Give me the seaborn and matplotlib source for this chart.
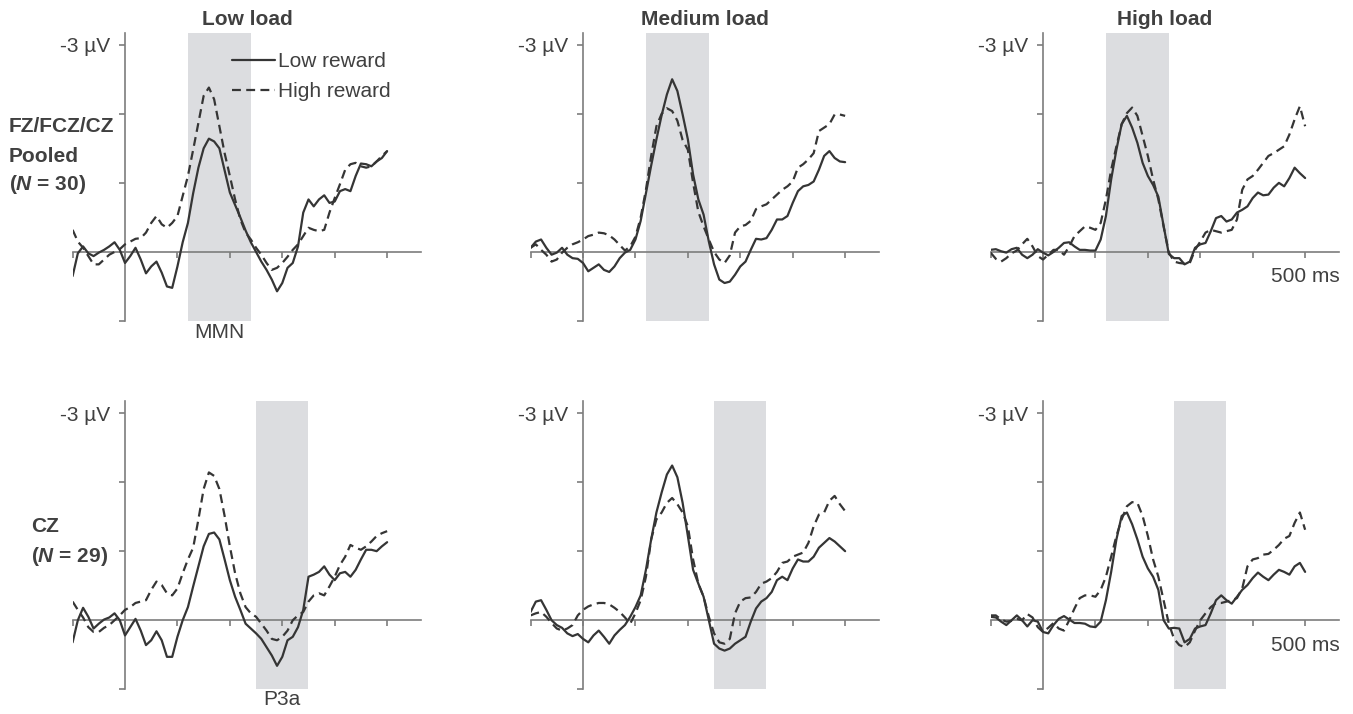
import numpy as np
import pandas as pd
import matplotlib
matplotlib.use("Agg")
import matplotlib.pyplot as plt
import seaborn as sns
from matplotlib.lines import Line2D

# time axis of the waveforms (ms), values in µV (negative plotted up)
time_ms = np.arange(-100, 501, 10)
loads = ["Low load", "Medium load", "High load"]
rewards = ["Low reward", "High reward"]
sites = ["pooled", "cz"]

# FZ/FCZ/CZ pooled
pooled_low_load_low = [0.35, 0.02, -0.08, 0.02, 0.06, 0.01, -0.03, -0.08, -0.14, -0.03,
                       0.16, 0.06, -0.06, 0.11, 0.31, 0.21, 0.14, 0.30, 0.50, 0.52,
                       0.21, -0.14, -0.42, -0.85, -1.22, -1.50, -1.64, -1.60, -1.50, -1.18,
                       -0.86, -0.68, -0.50, -0.31, -0.14, 0.00, 0.14, 0.26, 0.40, 0.57,
                       0.45, 0.23, 0.16, -0.08, -0.57, -0.76, -0.66, -0.76, -0.82, -0.71,
                       -0.73, -0.88, -0.91, -0.88, -1.10, -1.28, -1.27, -1.24, -1.31, -1.36,
                       -1.46]
pooled_low_load_high = [-0.32, -0.15, -0.06, 0.06, 0.18, 0.18, 0.11, 0.04, 0.00, -0.04,
                        -0.11, -0.15, -0.19, -0.20, -0.28, -0.42, -0.52, -0.40, -0.35, -0.42,
                        -0.52, -0.81, -1.10, -1.48, -1.87, -2.26, -2.38, -2.21, -1.82, -1.43,
                        -1.10, -0.76, -0.47, -0.28, -0.18, -0.06, 0.04, 0.16, 0.26, 0.23,
                        0.16, 0.07, -0.03, -0.11, -0.23, -0.35, -0.32, -0.30, -0.32, -0.57,
                        -0.78, -0.98, -1.19, -1.27, -1.29, -1.24, -1.22, -1.24, -1.31, -1.39,
                        -1.46]
pooled_med_load_low = [-0.06, -0.15, -0.18, -0.06, 0.04, 0.01, -0.06, 0.04, 0.09, 0.10,
                       0.16, 0.28, 0.23, 0.18, 0.26, 0.29, 0.21, 0.09, 0.01, -0.03,
                       -0.18, -0.45, -0.85, -1.25, -1.63, -1.98, -2.28, -2.50, -2.33, -1.99,
                       -1.63, -1.12, -0.76, -0.54, -0.15, 0.18, 0.40, 0.45, 0.43, 0.33,
                       0.21, 0.14, -0.03, -0.19, -0.18, -0.20, -0.32, -0.47, -0.47, -0.52,
                       -0.71, -0.88, -0.95, -0.97, -1.02, -1.19, -1.39, -1.46, -1.36, -1.31,
                       -1.30]
pooled_med_load_high = [-0.06, -0.11, -0.03, 0.04, 0.14, 0.11, 0.01, -0.06, -0.11, -0.14,
                        -0.18, -0.23, -0.25, -0.28, -0.27, -0.24, -0.18, -0.10, -0.02, -0.08,
                        -0.22, -0.50, -0.90, -1.39, -1.82, -2.00, -2.08, -2.04, -1.90, -1.62,
                        -1.48, -1.00, -0.58, -0.37, -0.18, 0.00, 0.11, 0.16, 0.05, -0.28,
                        -0.37, -0.39, -0.45, -0.62, -0.66, -0.69, -0.76, -0.83, -0.90, -0.95,
                        -1.02, -1.22, -1.27, -1.34, -1.43, -1.75, -1.80, -1.85, -1.99, -1.99,
                        -1.97]
pooled_high_load_low = [-0.03, -0.04, -0.01, 0.01, -0.04, -0.06, 0.04, 0.09, 0.04, -0.04,
                        0.01, 0.05, 0.00, -0.06, -0.13, -0.14, -0.08, -0.03, -0.03, -0.02,
                        -0.02, -0.18, -0.52, -1.05, -1.48, -1.85, -1.97, -1.80, -1.58, -1.29,
                        -1.10, -0.97, -0.80, -0.38, 0.03, 0.09, 0.09, 0.18, 0.14, -0.06,
                        -0.11, -0.13, -0.30, -0.49, -0.52, -0.44, -0.47, -0.57, -0.61, -0.66,
                        -0.78, -0.86, -0.82, -0.83, -0.93, -1.00, -0.95, -1.07, -1.22, -1.14,
                        -1.07]
pooled_high_load_high = [0.01, 0.10, 0.14, 0.09, 0.02, -0.02, -0.11, -0.19, -0.08, 0.06,
                         0.11, 0.04, -0.03, -0.03, 0.04, -0.08, -0.23, -0.30, -0.37, -0.35,
                         -0.32, -0.42, -0.76, -1.19, -1.53, -1.85, -2.01, -2.09, -1.97, -1.68,
                         -1.39, -1.05, -0.76, -0.37, 0.01, 0.14, 0.16, 0.17, 0.16, -0.03,
                         -0.15, -0.28, -0.32, -0.30, -0.28, -0.30, -0.32, -0.47, -0.90, -1.05,
                         -1.10, -1.19, -1.29, -1.39, -1.43, -1.48, -1.53, -1.70, -1.92, -2.11,
                         -1.82]

# CZ
cz_low_load_low = [0.32, 0.00, -0.18, -0.05, 0.12, 0.05, -0.01, -0.04, -0.10, 0.00,
                   0.22, 0.10, -0.02, 0.15, 0.36, 0.29, 0.16, 0.29, 0.53, 0.53,
                   0.24, 0.00, -0.19, -0.49, -0.78, -1.07, -1.25, -1.27, -1.17, -0.88,
                   -0.58, -0.34, -0.15, 0.05, 0.12, 0.19, 0.27, 0.39, 0.51, 0.66,
                   0.53, 0.29, 0.24, 0.10, -0.15, -0.63, -0.66, -0.70, -0.78, -0.66,
                   -0.58, -0.68, -0.70, -0.63, -0.73, -0.88, -1.02, -1.02, -1.00, -1.07,
                   -1.13]
cz_low_load_high = [-0.27, -0.15, -0.04, 0.10, 0.17, 0.17, 0.11, 0.07, 0.00, -0.07,
                    -0.15, -0.19, -0.25, -0.27, -0.29, -0.44, -0.56, -0.51, -0.39, -0.36,
                    -0.46, -0.68, -0.88, -1.05, -1.46, -1.90, -2.14, -2.09, -1.90, -1.51,
                    -1.07, -0.68, -0.39, -0.19, -0.10, -0.05, 0.05, 0.15, 0.27, 0.29,
                    0.24, 0.15, 0.00, -0.07, -0.12, -0.27, -0.36, -0.39, -0.36, -0.49,
                    -0.63, -0.80, -0.92, -1.09, -1.05, -1.02, -1.07, -1.14, -1.22, -1.26,
                    -1.29]
cz_med_load_low = [-0.12, -0.27, -0.29, -0.15, 0.00, 0.07, 0.11, 0.19, 0.23, 0.20,
                   0.27, 0.32, 0.22, 0.15, 0.24, 0.34, 0.22, 0.14, 0.07, -0.05,
                   -0.19, -0.36, -0.73, -1.17, -1.56, -1.85, -2.11, -2.24, -2.07, -1.70,
                   -1.22, -0.73, -0.53, -0.34, 0.00, 0.34, 0.41, 0.44, 0.41, 0.34,
                   0.29, 0.24, 0.02, -0.17, -0.27, -0.32, -0.41, -0.58, -0.63, -0.58,
                   -0.75, -0.88, -0.85, -0.85, -0.92, -1.05, -1.12, -1.19, -1.14, -1.07,
                   -1.00]
cz_med_load_high = [-0.07, -0.10, -0.12, -0.05, 0.04, 0.12, 0.15, 0.12, 0.07, -0.07,
                    -0.15, -0.20, -0.23, -0.25, -0.25, -0.23, -0.18, -0.12, -0.04, 0.05,
                    -0.10, -0.29, -0.63, -1.17, -1.46, -1.56, -1.70, -1.77, -1.68, -1.56,
                    -1.36, -0.88, -0.53, -0.34, -0.05, 0.19, 0.32, 0.34, 0.27, -0.10,
                    -0.27, -0.32, -0.33, -0.41, -0.53, -0.56, -0.61, -0.70, -0.83, -0.85,
                    -0.92, -0.95, -0.98, -1.12, -1.36, -1.53, -1.56, -1.73, -1.80, -1.68,
                    -1.58]
cz_high_load_low = [-0.05, -0.04, 0.02, 0.07, 0.00, -0.07, 0.00, 0.09, 0.00, 0.02,
                    0.17, 0.19, 0.07, -0.02, -0.06, -0.01, 0.04, 0.04, 0.05, 0.09,
                    0.10, 0.02, -0.29, -0.70, -1.17, -1.51, -1.56, -1.39, -1.17, -0.92,
                    -0.75, -0.63, -0.44, 0.00, 0.12, 0.11, 0.12, 0.32, 0.27, 0.12,
                    0.09, 0.07, -0.10, -0.29, -0.36, -0.29, -0.24, -0.34, -0.44, -0.51,
                    -0.61, -0.69, -0.63, -0.58, -0.66, -0.73, -0.70, -0.66, -0.78, -0.83,
                    -0.70]
cz_high_load_high = [-0.07, -0.07, -0.01, 0.02, 0.01, -0.02, 0.00, -0.09, -0.04, 0.10,
                     0.17, 0.11, 0.04, 0.12, 0.15, 0.00, -0.17, -0.32, -0.36, -0.36,
                     -0.34, -0.44, -0.63, -0.92, -1.22, -1.46, -1.65, -1.71, -1.70, -1.51,
                     -1.22, -0.88, -0.63, -0.29, 0.05, 0.27, 0.36, 0.39, 0.32, 0.15,
                     0.00, -0.10, -0.19, -0.25, -0.25, -0.27, -0.29, -0.32, -0.46, -0.78,
                     -0.88, -0.90, -0.95, -0.96, -1.02, -1.09, -1.18, -1.22, -1.41, -1.56,
                     -1.31]

waves = {
    ("pooled", "Low load"): (pooled_low_load_low, pooled_low_load_high),
    ("pooled", "Medium load"): (pooled_med_load_low, pooled_med_load_high),
    ("pooled", "High load"): (pooled_high_load_low, pooled_high_load_high),
    ("cz", "Low load"): (cz_low_load_low, cz_low_load_high),
    ("cz", "Medium load"): (cz_med_load_low, cz_med_load_high),
    ("cz", "High load"): (cz_high_load_low, cz_high_load_high),
}

# analysis windows (ms)
mmn_window = (120, 240)
p3a_window = (250, 350)

rows = []
for (site, load), pair in waves.items():
    for reward, vals in zip(rewards, pair):
        for t, v in zip(time_ms, vals):
            rows.append({"site": site, "load": load, "reward": reward, "time": t, "uv": v})
df = pd.DataFrame(rows)

sns.set_theme(style="white")
plt.rcParams["font.family"] = ["Liberation Sans", "DejaVu Sans"]
plt.rcParams["mathtext.fontset"] = "custom"
plt.rcParams["mathtext.it"] = "Liberation Sans:italic:bold"
plt.rcParams["mathtext.rm"] = "Liberation Sans:bold"

W, H = 1353, 714
fig = plt.figure(figsize=(W / 100, H / 100), dpi=100)

line_col = "#353535"
axis_col = "#7d7d7d"
text_col = "#404040"
shade_col = "#dcdde0"
fs = 15

col_left = [72.6, 530.6, 990.6]
row_bottom = [714 - 321, 714 - 689.3]
ax_w, ax_h = 348.6, 288
dash_map = {"Low reward": "", "High reward": (4, 2.4)}

axes = {}
for r, site in enumerate(sites):
    for c, load in enumerate(loads):
        ax = fig.add_axes([col_left[c] / W, row_bottom[r] / H, ax_w / W, ax_h / H])
        axes[(site, load)] = ax
        win = mmn_window if site == "pooled" else p3a_window
        ax.axvspan(win[0], win[1], color=shade_col, lw=0, zorder=0)
        sub = df[(df["site"] == site) & (df["load"] == load)]
        sns.lineplot(data=sub, x="time", y="uv", style="reward", dashes=dash_map,
                     color=line_col, lw=1.6, legend=False, ax=ax, zorder=3)
        ax.set_xlim(-100, 565)
        ax.set_ylim(1.0, -3.17)
        ax.set_xlabel("")
        ax.set_ylabel("")
        for s in ["top", "right"]:
            ax.spines[s].set_visible(False)
        ax.spines["left"].set_position(("data", 0))
        ax.spines["bottom"].set_position(("data", 0))
        for s in ["left", "bottom"]:
            ax.spines[s].set_color(axis_col)
            ax.spines[s].set_linewidth(1.2)
            ax.spines[s].set_zorder(2)
        ax.set_yticks([-3, -2, -1, 0, 1])
        ax.set_yticklabels(["-3 µV", "", "", "", ""])
        ax.set_xticks(np.arange(-100, 501, 100))
        if c == 2:
            ax.set_xticklabels([""] * 6 + ["500 ms"])
        else:
            ax.set_xticklabels([""] * 7)
        ax.tick_params(axis="both", direction="out", length=4, width=1.2, color=axis_col,
                       labelsize=fs, labelcolor=text_col, bottom=True, left=True)
        ax.tick_params(axis="y", pad=7)
        ax.tick_params(axis="x", pad=7)
        ax.patch.set_alpha(0)
        if r == 0:
            ax.set_title(load, fontsize=fs, fontweight="bold", color=text_col, pad=6)

# window labels
axes[("pooled", "Low load")].annotate("MMN", xy=(sum(mmn_window) / 2, 1.0), xytext=(0, -8),
                                      textcoords="offset points", ha="center", va="center",
                                      fontsize=fs, color=text_col, annotation_clip=False)
axes[("cz", "Low load")].annotate("P3a", xy=(sum(p3a_window) / 2, 1.0), xytext=(0, -7),
                                  textcoords="offset points", ha="center", va="center",
                                  fontsize=fs, color=text_col, annotation_clip=False)

# legend
handles = [Line2D([], [], color=line_col, lw=1.6),
           Line2D([], [], color=line_col, lw=1.6, dashes=(4, 2.4))]
axes[("pooled", "Low load")].legend(handles, rewards, loc="upper left",
                                    bbox_to_anchor=(232 / W, 1 - 52 / H),
                                    bbox_transform=fig.transFigure, frameon=False,
                                    borderpad=0, borderaxespad=0, handlelength=2.07,
                                    handletextpad=0.15, labelspacing=0.54, fontsize=fs,
                                    labelcolor=text_col)

# row labels
def row_text(x, y, s):
    fig.text(x / W, 1 - y / H, s, ha="left", va="center", fontsize=fs,
             fontweight="bold", color=text_col)

row_text(9, 127, "FZ/FCZ/CZ")
row_text(9, 156, "Pooled")
row_text(9, 185, "($N$ = 30)")
row_text(31, 527, "CZ")
row_text(31, 557, "($N$ = 29)")

fig.savefig("out.png", dpi=100, facecolor="white")
